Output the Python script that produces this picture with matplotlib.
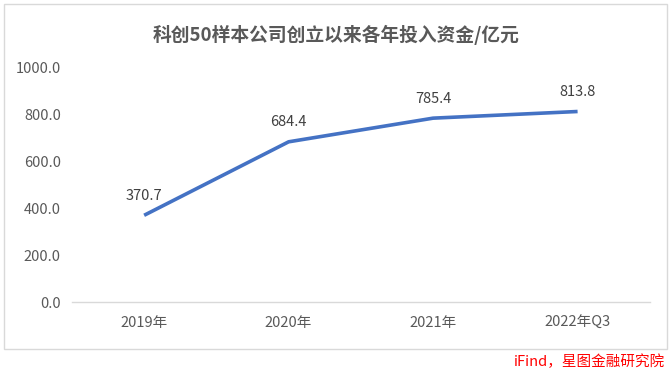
import matplotlib.pyplot as plt
from matplotlib.patches import Rectangle

plt.rcParams['font.family'] = ['Noto Sans CJK SC', 'DejaVu Sans']

# data
categories = ["2019年", "2020年", "2021年", "2022年Q3"]
values = [370.7, 684.4, 785.4, 813.8]
y_ticks = [0, 200, 400, 600, 800, 1000]

text_color = '#595959'
line_color = '#4472C4'

fig = plt.figure(figsize=(6.72, 3.73), dpi=100)
ax = fig.add_axes([0.107, 0.190, 0.860, 0.628])

x = list(range(len(categories)))
ax.plot(x, values, color=line_color, linewidth=2.6, solid_capstyle='butt')

for xi, v in zip(x, values):
    ax.annotate(f"{v:.1f}", (xi, v), xytext=(0, 9), textcoords='offset points',
                ha='center', va='bottom', fontsize=10.5, color='#404040')

ax.set_xlim(-0.5, len(categories) - 0.5)
ax.set_ylim(0, 1000)
ax.set_xticks(x)
ax.set_xticklabels(categories, fontsize=10.5, color=text_color)
ax.set_yticks(y_ticks)
ax.set_yticklabels([f"{t:.1f}" for t in y_ticks], fontsize=10.5, color=text_color)
ax.tick_params(length=0)
ax.tick_params(axis='x', pad=10)
ax.tick_params(axis='y', pad=8)

for side in ['top', 'right', 'left']:
    ax.spines[side].set_visible(False)
ax.spines['bottom'].set_color('#D9D9D9')
ax.spines['bottom'].set_linewidth(1.0)

fig.text(0.5, 0.906, "科创50样本公司创立以来各年投入资金/亿元", ha='center', va='center',
         fontsize=13.5, fontweight='bold', color=text_color)

# outer frame
fig.patches.append(Rectangle((4 / 672, 1 - 349 / 373), 663 / 672, 345 / 373,
                             transform=fig.transFigure, fill=False,
                             edgecolor='#D9D9D9', linewidth=1.0))

fig.text(665 / 672, 1 - 362 / 373, "iFind，星图金融研究院", ha='right', va='center',
         fontsize=10.5, color='#FF0000', style='italic')

fig.savefig("out.png", dpi=100)
